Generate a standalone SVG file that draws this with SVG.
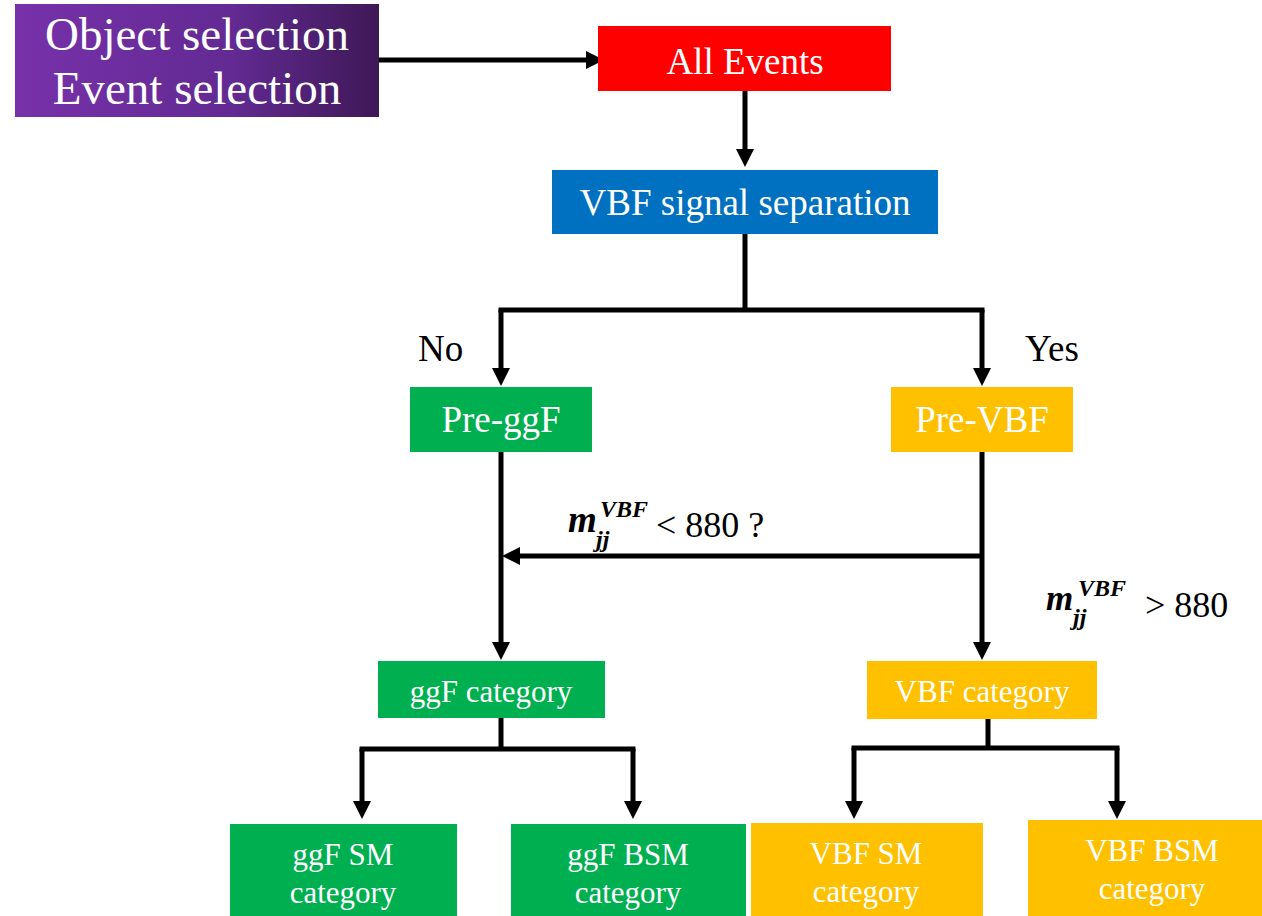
<svg xmlns="http://www.w3.org/2000/svg" width="1262" height="916" viewBox="0 0 1262 916">
<defs>
<linearGradient id="purp" x1="0" y1="0" x2="1" y2="0">
<stop offset="0" stop-color="#7731AA"/>
<stop offset="0.6" stop-color="#622A92"/>
<stop offset="1" stop-color="#3E1856"/>
</linearGradient>
<marker id="ah" markerUnits="userSpaceOnUse" markerWidth="18" markerHeight="18" viewBox="0 0 18 18" refX="1" refY="9" orient="auto">
<path d="M0,0 L18,9 L0,18 z" fill="#000"/>
</marker>
<style>
.t{font-family:"Liberation Serif","Times New Roman",serif;fill:#fff;text-anchor:middle}
.k{font-family:"Liberation Serif","Times New Roman",serif;fill:#000}
.m{font-family:"Liberation Serif","Times New Roman",serif;fill:#000;font-weight:bold;font-style:italic}
.c{fill:none;stroke:#000;stroke-width:5}
.a{fill:none;stroke:#000;stroke-width:5;marker-end:url(#ah)}
</style>
</defs>
<rect width="1262" height="916" fill="#fff"/>
<g id="connectors">
<path class="a" d="M379,60 H587"/>
<path class="a" d="M745,91 V150"/>
<path class="c" d="M745,234 V310"/>
<path class="c" d="M498.5,310 H984.5"/>
<path class="a" d="M501,310 V369"/>
<path class="a" d="M982,310 V369"/>
<path class="a" d="M501,452 V643"/>
<path class="a" d="M982,452 V643"/>
<path class="a" d="M982,556 H519"/>
<path class="c" d="M501,718 V749"/>
<path class="c" d="M359.5,749 H635.5"/>
<path class="a" d="M362,749 V802"/>
<path class="a" d="M633,749 V802"/>
<path class="c" d="M988,719 V748"/>
<path class="c" d="M851.5,748 H1119.5"/>
<path class="a" d="M854,748 V802"/>
<path class="a" d="M1117,748 V802"/>
</g>
<g id="n-selection">
<rect x="15" y="4" width="364" height="113" fill="url(#purp)"/>
<text class="t" x="197" y="50" font-size="47">Object selection</text>
<text class="t" x="197" y="104" font-size="47">Event selection</text>
</g>
<g id="n-all">
<rect x="598" y="26" width="293" height="65" fill="#FF0000"/>
<text class="t" x="745" y="74" font-size="37">All Events</text>
</g>
<g id="n-vbfsep">
<rect x="552" y="170" width="386" height="64" fill="#0070C0"/>
<text class="t" x="745" y="215" font-size="37">VBF signal separation</text>
</g>
<g id="l-no"><text class="k" x="418" y="361" font-size="37">No</text></g>
<g id="l-yes"><text class="k" x="1025" y="361" font-size="37">Yes</text></g>
<g id="n-preggf">
<rect x="410" y="387" width="182" height="65" fill="#00B050"/>
<text class="t" x="501" y="432" font-size="37">Pre-ggF</text>
</g>
<g id="n-prevbf">
<rect x="891" y="387" width="182" height="65" fill="#FFC000"/>
<text class="t" x="982" y="432" font-size="37">Pre-VBF</text>
</g>
<g id="l-lt">
<text class="m" x="568" y="532" font-size="37">m</text>
<text class="m" x="596" y="547" font-size="24">jj</text>
<text class="m" x="600" y="517" font-size="24">VBF</text>
<text class="k" x="656" y="537" font-size="36">&lt; 880 ?</text>
</g>
<g id="l-gt">
<text class="m" x="1046" y="610" font-size="35">m</text>
<text class="m" x="1073" y="625" font-size="24">jj</text>
<text class="m" x="1078" y="596" font-size="24">VBF</text>
<text class="k" x="1145" y="617" font-size="36">&gt; 880</text>
</g>
<g id="n-ggfcat">
<rect x="378" y="661" width="227" height="57" fill="#00B050"/>
<text class="t" x="491" y="702" font-size="31">ggF category</text>
</g>
<g id="n-vbfcat">
<rect x="867" y="661" width="230" height="58" fill="#FFC000"/>
<text class="t" x="982" y="702" font-size="31">VBF category</text>
</g>
<g id="n-ggfsm">
<rect x="230" y="824" width="227" height="92" fill="#00B050"/>
<text class="t" x="343" y="865" font-size="31">ggF SM</text>
<text class="t" x="343" y="903" font-size="31">category</text>
</g>
<g id="n-ggfbsm">
<rect x="511" y="824" width="235" height="92" fill="#00B050"/>
<text class="t" x="628" y="865" font-size="31">ggF BSM</text>
<text class="t" x="628" y="903" font-size="31">category</text>
</g>
<g id="n-vbfsm">
<rect x="751" y="823" width="232" height="93" fill="#FFC000"/>
<text class="t" x="866" y="864" font-size="31">VBF SM</text>
<text class="t" x="866" y="902" font-size="31">category</text>
</g>
<g id="n-vbfbsm">
<rect x="1028" y="820" width="234" height="96" fill="#FFC000"/>
<text class="t" x="1152" y="861" font-size="31">VBF BSM</text>
<text class="t" x="1152" y="899" font-size="31">category</text>
</g>
</svg>
